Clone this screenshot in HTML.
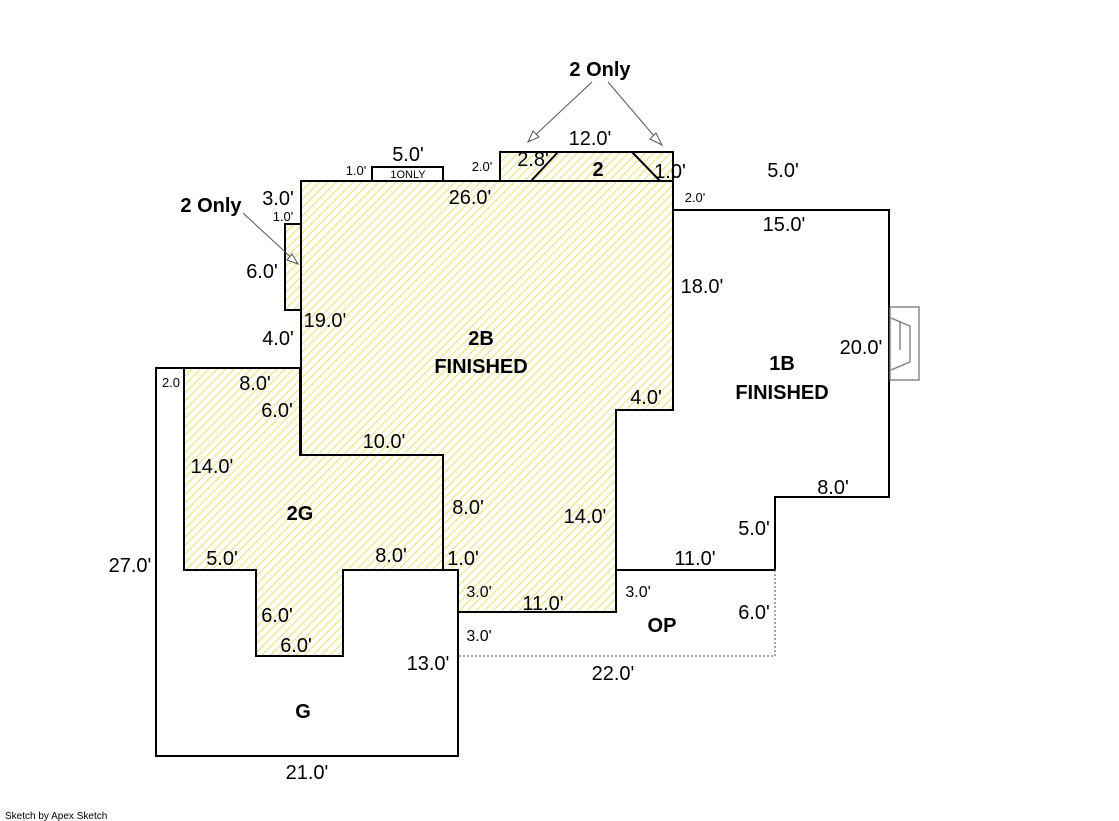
<!DOCTYPE html>
<html><head><meta charset="utf-8"><style>
html,body{margin:0;padding:0;background:#fff;}
svg{display:block;}
text{font-family:"Liberation Sans",Arial,sans-serif;fill:#000;}
.m{font-size:20px;}
.s{font-size:13px;}
.t{font-size:16px;}
.b{font-size:20px;font-weight:bold;}
</style></head><body>
<svg width="1119" height="821" viewBox="0 0 1119 821" xmlns="http://www.w3.org/2000/svg">
<defs>
<pattern id="h" patternUnits="userSpaceOnUse" width="6" height="6" patternTransform="rotate(45)">
<rect width="6" height="6" fill="#fff"/>
<line x1="0" y1="0" x2="0" y2="6" stroke="#e6e27a" stroke-width="2.2"/>
</pattern>
</defs>
<g stroke="#000" stroke-width="2" fill="none">
<polygon points="156,368 184,368 184,570 256,570 256,656 343,656 343,570 458,570 458,756 156,756" fill="#fff"/>
<polygon points="184,368 300,368 300,455 443,455 443,570 343,570 343,656 256,656 256,570 184,570" fill="url(#h)"/>
<polygon points="301,181 673,181 673,410 616,410 616,612 458,612 458,570 443,570 443,455 301,455" fill="url(#h)"/>
<polygon points="285,224 301,224 301,310 285,310" fill="url(#h)"/>
<polygon points="500,152 673,152 673,181 500,181" fill="url(#h)"/>
<line x1="531" y1="181" x2="558" y2="152"/>
<line x1="632" y1="152" x2="660" y2="181"/>
<polyline points="372,181 372,167 443,167 443,181"/>
<polyline points="673,210 889,210 889,497 775,497 775,570 616,570"/>
</g>
<polyline points="775,570 775,656 458,656" fill="none" stroke="#888" stroke-width="1.5" stroke-dasharray="2,2"/>
<g stroke="#777" stroke-width="1.3" fill="none">
<rect x="890" y="307" width="29" height="73"/>
<polyline points="891,318 910,326 910,362 891,370"/>
<line x1="900" y1="322" x2="900" y2="350"/>
</g>
<g stroke="#555" stroke-width="1" fill="none">
<line x1="592" y1="82" x2="530" y2="140"/>
<line x1="608" y1="82" x2="660" y2="143"/>
<line x1="243" y1="213" x2="296" y2="262"/>
</g>
<g fill="#fff" stroke="#555" stroke-width="1">
<polygon points="528,142 533,131 539,137"/>
<polygon points="662,145 650,139 656,133"/>
<polygon points="298,264 287,260 292,254"/>
</g>
<text class="b" x="600" y="76" text-anchor="middle">2 Only</text>
<text class="b" x="211" y="212" text-anchor="middle">2 Only</text>
<text class="m" x="590" y="145" text-anchor="middle">12.0'</text>
<text class="m" x="408" y="161" text-anchor="middle">5.0'</text>
<text class="s" x="356" y="175" text-anchor="middle">1.0'</text>
<text x="408" y="178" text-anchor="middle" style="font-size:11px">1ONLY</text>
<text class="s" x="482" y="171" text-anchor="middle">2.0'</text>
<text class="m" x="533" y="166" text-anchor="middle">2.8'</text>
<text class="b" x="598" y="176" text-anchor="middle">2</text>
<text class="m" x="670" y="178" text-anchor="middle">1.0'</text>
<text class="m" x="783" y="177" text-anchor="middle">5.0'</text>
<text class="m" x="470" y="204" text-anchor="middle">26.0'</text>
<text class="s" x="695" y="202" text-anchor="middle">2.0'</text>
<text class="m" x="278" y="205" text-anchor="middle">3.0'</text>
<text class="s" x="283" y="221" text-anchor="middle">1.0'</text>
<text class="m" x="784" y="231" text-anchor="middle">15.0'</text>
<text class="m" x="262" y="278" text-anchor="middle">6.0'</text>
<text class="m" x="702" y="293" text-anchor="middle">18.0'</text>
<text class="m" x="325" y="327" text-anchor="middle">19.0'</text>
<text class="m" x="278" y="345" text-anchor="middle">4.0'</text>
<text class="b" x="481" y="345" text-anchor="middle">2B</text>
<text class="b" x="481" y="373" text-anchor="middle">FINISHED</text>
<text class="m" x="861" y="354" text-anchor="middle">20.0'</text>
<text class="b" x="782" y="370" text-anchor="middle">1B</text>
<text class="b" x="782" y="399" text-anchor="middle">FINISHED</text>
<text class="s" x="171" y="387" text-anchor="middle">2.0</text>
<text class="m" x="255" y="390" text-anchor="middle">8.0'</text>
<text class="m" x="646" y="404" text-anchor="middle">4.0'</text>
<text class="m" x="277" y="417" text-anchor="middle">6.0'</text>
<text class="m" x="384" y="448" text-anchor="middle">10.0'</text>
<text class="m" x="212" y="473" text-anchor="middle">14.0'</text>
<text class="m" x="833" y="494" text-anchor="middle">8.0'</text>
<text class="m" x="468" y="514" text-anchor="middle">8.0'</text>
<text class="b" x="300" y="520" text-anchor="middle">2G</text>
<text class="m" x="585" y="523" text-anchor="middle">14.0'</text>
<text class="m" x="754" y="535" text-anchor="middle">5.0'</text>
<text class="m" x="222" y="565" text-anchor="middle">5.0'</text>
<text class="m" x="391" y="562" text-anchor="middle">8.0'</text>
<text class="m" x="463" y="565" text-anchor="middle">1.0'</text>
<text class="m" x="695" y="565" text-anchor="middle">11.0'</text>
<text class="m" x="130" y="572" text-anchor="middle">27.0'</text>
<text class="t" x="479" y="597" text-anchor="middle">3.0'</text>
<text class="t" x="638" y="597" text-anchor="middle">3.0'</text>
<text class="m" x="543" y="610" text-anchor="middle">11.0'</text>
<text class="m" x="754" y="619" text-anchor="middle">6.0'</text>
<text class="m" x="277" y="622" text-anchor="middle">6.0'</text>
<text class="b" x="662" y="632" text-anchor="middle">OP</text>
<text class="t" x="479" y="641" text-anchor="middle">3.0'</text>
<text class="m" x="296" y="652" text-anchor="middle">6.0'</text>
<text class="m" x="428" y="670" text-anchor="middle">13.0'</text>
<text class="m" x="613" y="680" text-anchor="middle">22.0'</text>
<text class="b" x="303" y="718" text-anchor="middle">G</text>
<text class="m" x="307" y="779" text-anchor="middle">21.0'</text>
<text x="5" y="819" style="font-size:10px">Sketch by Apex Sketch</text>
</svg>
</body></html>
